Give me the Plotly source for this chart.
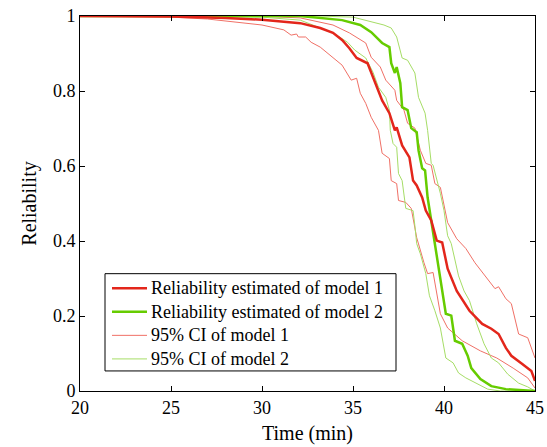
import plotly.graph_objects as go

# Model 1 estimated reliability
t_m1 = [20, 25, 28, 30, 32.1, 33.2, 33.9, 34.4, 34.8, 35.2, 35.8, 36.0, 36.3, 36.6, 37.0, 37.3, 37.4,
        37.7, 38.1, 38.3, 38.5, 38.8, 39.0, 39.3, 39.6, 39.9, 40.2, 40.7, 41.4, 42.1, 42.6, 43.0,
        43.4, 43.7, 44.3, 44.8, 45]
r_m1 = [1, 0.999, 0.995, 0.99, 0.981, 0.968, 0.955, 0.936, 0.914, 0.888, 0.874, 0.850, 0.815, 0.775,
        0.741, 0.695, 0.703, 0.655, 0.623, 0.561, 0.548, 0.516, 0.481, 0.455, 0.401, 0.396, 0.326,
        0.267, 0.214, 0.179, 0.166, 0.152, 0.115, 0.094, 0.072, 0.053, 0.027]

# Model 2 estimated reliability
t_m2 = [20, 30, 32.1, 34.4, 35.4, 36.0, 36.6, 37.0, 37.1, 37.3, 37.4, 37.6, 37.7, 38.0, 38.2, 38.5,
        38.6, 38.8, 38.96, 39.1, 39.3, 39.6, 39.9, 40.1, 40.4, 40.6, 41.0, 41.3, 41.5, 42.0, 42.6,
        43.4, 45]
r_m2 = [1, 1, 1, 0.989, 0.976, 0.957, 0.928, 0.917, 0.874, 0.848, 0.864, 0.821, 0.757, 0.749, 0.701,
        0.690, 0.642, 0.594, 0.588, 0.516, 0.455, 0.356, 0.275, 0.206, 0.201, 0.134, 0.126, 0.094,
        0.061, 0.032, 0.013, 0.005, 0]

# 95% CI of model 1 (lower, upper)
t_c1_lo = [20, 25, 27, 28.5, 30, 31.2, 31.6, 31.9, 32.0, 32.4, 32.7, 33.2, 33.9, 34.4, 34.9, 35.2,
           35.4, 35.7, 36.0, 36.4, 36.6, 37.0, 37.1, 37.4, 37.5, 37.9, 38.2, 38.5, 38.9, 39.1, 39.4,
           39.8, 40.2, 41.0, 42.0, 42.9, 43.8, 44.6, 45]
r_c1_lo = [1, 0.997, 0.992, 0.984, 0.976, 0.963, 0.949, 0.952, 0.944, 0.944, 0.930, 0.917, 0.890,
           0.869, 0.829, 0.834, 0.794, 0.767, 0.730, 0.695, 0.634, 0.620, 0.561, 0.553, 0.508, 0.503,
           0.487, 0.409, 0.342, 0.313, 0.316, 0.206, 0.168, 0.134, 0.107, 0.088, 0.061, 0.035, 0.008]
t_c1_hi = [20, 28, 30, 32.1, 33.9, 34.8, 35.7, 36.0, 36.5, 36.8, 37.3, 37.4, 37.8, 38.0, 38.4, 38.7,
           39.0, 39.3, 39.5, 39.8, 40.0, 40.2, 40.7, 41.2, 41.7, 42.4, 42.8, 43.0, 43.4, 43.7, 44.1,
           44.6, 45]
r_c1_hi = [1, 1, 0.999, 0.995, 0.976, 0.955, 0.928, 0.890, 0.864, 0.829, 0.802, 0.775, 0.749, 0.714,
           0.701, 0.642, 0.607, 0.602, 0.553, 0.543, 0.495, 0.449, 0.406, 0.380, 0.342, 0.299, 0.273,
           0.278, 0.246, 0.233, 0.152, 0.142, 0.088]

# 95% CI of model 2 (lower, upper)
t_c2_lo = [20, 28, 30, 32.1, 33.9, 34.7, 35.1, 35.7, 36.1, 36.4, 36.8, 37.0, 37.05, 37.2, 37.4, 37.5,
           37.7, 37.9, 38.3, 38.4, 38.5, 38.7, 39.0, 39.2, 39.5, 39.8, 40.1, 40.5, 40.8, 41.2, 41.8,
           42.4, 43.1, 45]
r_c2_lo = [1, 0.999, 0.997, 0.989, 0.955, 0.930, 0.909, 0.888, 0.850, 0.810, 0.783, 0.749, 0.695,
           0.660, 0.650, 0.580, 0.561, 0.487, 0.481, 0.441, 0.393, 0.366, 0.313, 0.254, 0.214, 0.168,
           0.088, 0.075, 0.048, 0.035, 0.019, 0.005, 0, 0]
t_c2_hi = [20, 33, 35.0, 35.7, 36.7, 37.1, 37.4, 37.7, 38.0, 38.4, 38.6, 38.96, 39.1, 39.3, 39.4,
           39.8, 40.0, 40.2, 40.4, 40.8, 41.1, 41.4, 41.8, 42.2, 42.6, 43.0, 43.5, 44.1, 44.6, 45]
r_c2_hi = [1, 1, 0.997, 0.989, 0.976, 0.968, 0.944, 0.888, 0.882, 0.848, 0.783, 0.741, 0.695, 0.607,
           0.602, 0.527, 0.481, 0.414, 0.393, 0.307, 0.267, 0.241, 0.179, 0.126, 0.088, 0.075, 0.045,
           0.021, 0.011, 0]

series_names = ["Reliability estimated of model 1", "Reliability estimated of model 2",
                "95% CI of model 1", "95% CI of model 2"]

x_ticks = [20, 25, 30, 35, 40, 45]
y_ticks = [0, 0.2, 0.4, 0.6, 0.8, 1]
y_ticklabels = ["0", "0.2", "0.4", "0.6", "0.8", "1"]

RED = "#e3261b"
GREEN = "#66cc00"
RED_THIN = "#f07066"
GREEN_THIN = "#a6dd66"
styles = [(RED, 2.5), (GREEN, 2.5), (RED_THIN, 1), (GREEN_THIN, 1)]

fig = go.Figure()
fig.add_trace(go.Scatter(x=t_c1_lo, y=r_c1_lo, mode="lines", line=dict(color=RED_THIN, width=1),
                         name=series_names[2], showlegend=False))
fig.add_trace(go.Scatter(x=t_c1_hi, y=r_c1_hi, mode="lines", line=dict(color=RED_THIN, width=1),
                         name=series_names[2], showlegend=False))
fig.add_trace(go.Scatter(x=t_c2_lo, y=r_c2_lo, mode="lines", line=dict(color=GREEN_THIN, width=1),
                         name=series_names[3], showlegend=False))
fig.add_trace(go.Scatter(x=t_c2_hi, y=r_c2_hi, mode="lines", line=dict(color=GREEN_THIN, width=1),
                         name=series_names[3], showlegend=False))
fig.add_trace(go.Scatter(x=t_m2, y=r_m2, mode="lines", line=dict(color=GREEN, width=2.5),
                         name=series_names[1], showlegend=False))
fig.add_trace(go.Scatter(x=t_m1, y=r_m1, mode="lines", line=dict(color=RED, width=2.5),
                         name=series_names[0], showlegend=False))

# Legend box (MATLAB-style), drawn in plot-area (domain) fractions
PX_W, PX_H = 455.0, 374.0
box_x0, box_x1 = 25 / PX_W, 316 / PX_W
box_y0, box_y1 = 20 / PX_H, 117 / PX_H
row_h = 23.5 / PX_H
key_x0, key_x1, txt_x = 32 / PX_W, 67 / PX_W, 69 / PX_W
first_row = box_y1 - 14.5 / PX_H

shapes = [dict(type="rect", xref="x domain", yref="y domain", x0=box_x0, x1=box_x1, y0=box_y0,
               y1=box_y1, line=dict(color="black", width=1), fillcolor="white", layer="above")]
annotations = []
for i, (name, (col, w)) in enumerate(zip(series_names, styles)):
    yy = first_row - i * row_h
    shapes.append(dict(type="line", xref="x domain", yref="y domain", x0=key_x0, x1=key_x1,
                       y0=yy, y1=yy, line=dict(color=col, width=w), layer="above"))
    annotations.append(dict(text=name, xref="x domain", yref="y domain", x=txt_x, y=yy,
                            xanchor="left", yanchor="middle", showarrow=False,
                            font=dict(family="Liberation Serif", size=18, color="black")))

axis_common = dict(showgrid=False, zeroline=False, showline=True, linecolor="black", linewidth=1,
                   mirror="ticks", ticks="inside", ticklen=5, tickcolor="black", automargin=False,
                   tickfont=dict(family="Liberation Serif", size=18, color="black"))

fig.update_layout(
    width=547, height=447,
    margin=dict(l=80, r=12, t=16, b=56),
    paper_bgcolor="white", plot_bgcolor="white",
    font=dict(family="Liberation Serif", size=18, color="black"),
    xaxis=dict(range=[20, 45], tickvals=x_ticks, title=dict(text="Time (min)", standoff=9,
               font=dict(size=20)), **axis_common),
    yaxis=dict(range=[0, 1], tickvals=y_ticks, ticktext=y_ticklabels,
               title=dict(text="Reliability", standoff=10, font=dict(size=20)), **axis_common),
    shapes=shapes,
    annotations=annotations,
    showlegend=False,
)

fig.write_html("out.html")
